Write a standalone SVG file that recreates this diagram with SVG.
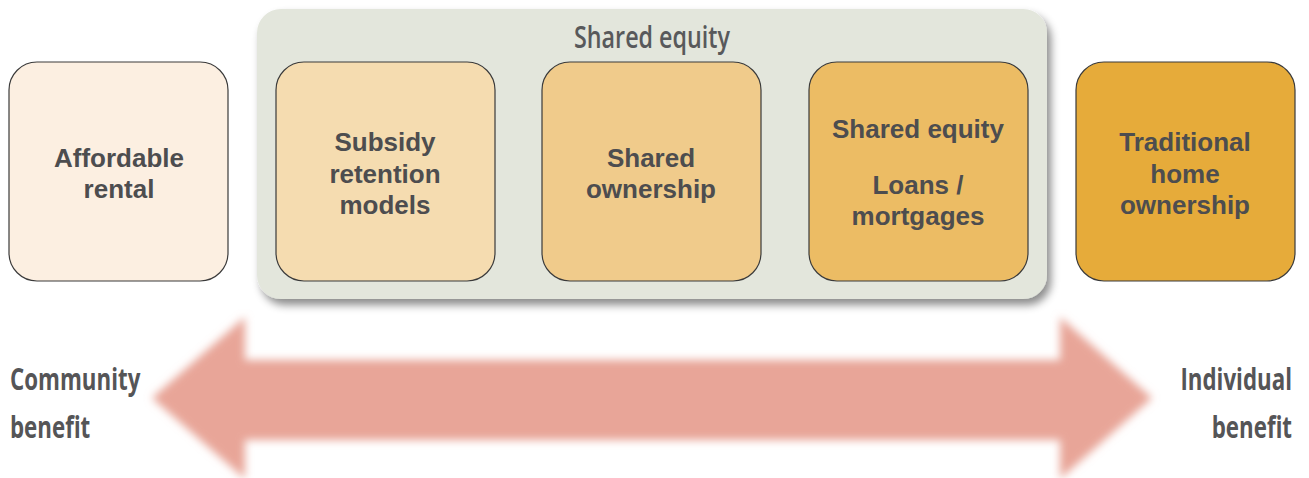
<svg xmlns="http://www.w3.org/2000/svg" width="1309" height="478" viewBox="0 0 1309 478">
  <style>
    .box { stroke: #3a3a3a; stroke-width: 1.2; }
    .lbl { font-family: "Liberation Sans", Arial, sans-serif; font-weight: bold; font-size: 26px; fill: #4d4d4f; text-anchor: middle; }
    .cond { font-family: "Open Sans", "Liberation Sans", sans-serif; font-weight: 600; font-size: 31px; fill: #58595b; }
    .side { font-weight: 700; fill: #555557; }
  </style>
  <defs>
    <filter id="shadow" x="-5%" y="-10%" width="115%" height="125%">
      <feDropShadow dx="4" dy="6" stdDeviation="4" flood-color="#000" flood-opacity="0.45"/>
    </filter>
    <filter id="soft" x="-10%" y="-20%" width="120%" height="140%">
      <feGaussianBlur stdDeviation="4.5"/>
    </filter>
  </defs>

  <!-- double-headed benefit arrow -->
  <g id="connectors">
    <path d="M152,398 L245,317 L245,360 L1060,360 L1060,317 L1152,398 L1060,479 L1060,440 L245,440 L245,479 Z" fill="#e8a598" filter="url(#soft)"/>
  </g>

  <!-- grouping panel -->
  <g id="shared-equity-group">
    <rect x="257" y="9" width="790" height="290" rx="24" fill="#e3e6dc" filter="url(#shadow)"/>
    <text class="cond" x="652" y="48" text-anchor="middle" textLength="156" lengthAdjust="spacingAndGlyphs">Shared equity</text>
  </g>

  <g id="affordable-rental">
    <rect class="box" x="9" y="62" width="219" height="219" rx="28" fill="#fcefe1"/>
    <text class="lbl" x="119" y="167">Affordable</text>
    <text class="lbl" x="119" y="198">rental</text>
  </g>

  <g id="subsidy-retention">
    <rect class="box" x="276" y="62" width="219" height="219" rx="28" fill="#f5dcb0"/>
    <text class="lbl" x="385" y="151">Subsidy</text>
    <text class="lbl" x="385" y="183">retention</text>
    <text class="lbl" x="385" y="214">models</text>
  </g>

  <g id="shared-ownership">
    <rect class="box" x="542" y="62" width="219" height="219" rx="28" fill="#f0cb8b"/>
    <text class="lbl" x="651" y="167">Shared</text>
    <text class="lbl" x="651" y="198">ownership</text>
  </g>

  <g id="shared-equity-loans">
    <rect class="box" x="809" y="62" width="219" height="219" rx="28" fill="#ecbc64"/>
    <text class="lbl" x="918" y="138">Shared equity</text>
    <text class="lbl" x="918" y="194">Loans /</text>
    <text class="lbl" x="918" y="225">mortgages</text>
  </g>

  <g id="traditional-ownership">
    <rect class="box" x="1076" y="62" width="219" height="219" rx="28" fill="#e6ab3a"/>
    <text class="lbl" x="1185" y="151">Traditional</text>
    <text class="lbl" x="1185" y="183">home</text>
    <text class="lbl" x="1185" y="214">ownership</text>
  </g>

  <!-- side labels, horizontally condensed -->
  <g id="community-benefit">
    <text class="cond side" transform="translate(10,390) scale(0.72,1)">Community</text>
    <text class="cond side" transform="translate(10,438) scale(0.72,1)">benefit</text>
  </g>

  <g id="individual-benefit">
    <text class="cond side" transform="translate(1292,390) scale(0.72,1)" text-anchor="end">Individual</text>
    <text class="cond side" transform="translate(1292,438) scale(0.72,1)" text-anchor="end">benefit</text>
  </g>
</svg>
